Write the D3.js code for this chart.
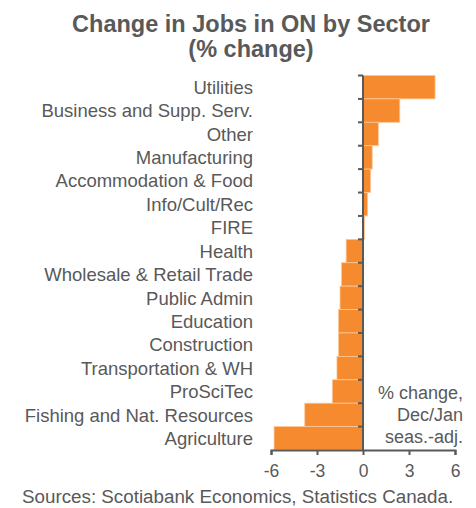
<!DOCTYPE html>
<html>
<head>
<meta charset="utf-8">
<script src="https://cdn.jsdelivr.net/npm/d3@7"></script>
<style>
  body { margin: 0; background: #fff; }
  text { font-family: "Liberation Sans", Arial, sans-serif; fill: #595959; }
</style>
</head>
<body>
<div class="chart"></div>
<script>
var w = 476, h = 508;

// sectors, top to bottom
var sectors = ['Utilities', 'Business and Supp. Serv.', 'Other', 'Manufacturing',
	'Accommodation & Food', 'Info/Cult/Rec', 'FIRE', 'Health',
	'Wholesale & Retail Trade', 'Public Admin', 'Education', 'Construction',
	'Transportation & WH', 'ProSciTec', 'Fishing and Nat. Resources', 'Agriculture'];
var change = [4.7, 2.4, 1.0, 0.6, 0.5, 0.3, 0.1, -1.1,
	-1.4, -1.5, -1.6, -1.6, -1.7, -2.0, -3.8, -5.8];
var xTicks = [-6, -3, 0, 3, 6];

var data = sectors.map(function(s, i) { return { name: s, value: change[i] }; });

var xScale = d3.scaleLinear().domain([-6, 6]).range([271, 455]);
var yScale = d3.scaleBand().domain(sectors).range([75.5, 450]).padding(0);

var svg = d3.select('.chart').append('svg')
			.attr('width', w)
			.attr('height', h);

// title
svg.append('text')
	.attr('x', 251).attr('y', 31.5)
	.attr('text-anchor', 'middle')
	.style('font-size', '23.5px').style('font-weight', 'bold')
	.text('Change in Jobs in ON by Sector');
svg.append('text')
	.attr('x', 251).attr('y', 56.5)
	.attr('text-anchor', 'middle')
	.style('font-size', '23.5px').style('font-weight', 'bold')
	.text('(% change)');

// bars
svg.selectAll('rect.bar')
	.data(data)
	.enter()
	.append('rect')
		.attr('class', 'bar')
		.attr('x', function(d) { return xScale(Math.min(0, d.value)); })
		.attr('y', function(d) { return yScale(d.name); })
		.attr('width', function(d) { return Math.abs(xScale(d.value) - xScale(0)); })
		.attr('height', yScale.bandwidth())
		.attr('fill', '#f58b2e')
		.attr('stroke', '#fbc89a')
		.attr('stroke-width', 0.8);

// category labels
svg.selectAll('text.cat')
	.data(sectors)
	.enter()
	.append('text')
		.attr('class', 'cat')
		.attr('x', 253)
		.attr('y', function(d) { return yScale(d) + yScale.bandwidth() / 2; })
		.attr('dy', '0.36em')
		.attr('text-anchor', 'end')
		.style('font-size', '18.5px')
		.text(function(d) { return d; });

// y axis line with ticks on the left
var yAxis = svg.append('g');
yAxis.append('line')
	.attr('x1', xScale(0)).attr('x2', xScale(0))
	.attr('y1', 75.5).attr('y2', 450)
	.attr('stroke', '#595959').attr('stroke-width', 2);
yAxis.selectAll('line.tick')
	.data(sectors)
	.enter()
	.append('line')
		.attr('class', 'tick')
		.attr('x1', xScale(0) - 5).attr('x2', xScale(0))
		.attr('y1', function(d) { return yScale(d); })
		.attr('y2', function(d) { return yScale(d); })
		.attr('stroke', '#595959').attr('stroke-width', 2);

// x axis
var xAxis = svg.append('g')
	.attr('transform', 'translate(0,450)')
	.call(d3.axisBottom(xScale).tickValues(xTicks).tickSize(5).tickPadding(10).tickFormat(d3.format('d')));
xAxis.select('.domain').attr('stroke', '#595959').attr('stroke-width', 2);
xAxis.selectAll('.tick line').attr('stroke', '#595959').attr('stroke-width', 2);
xAxis.selectAll('.tick text')
	.style('font-size', '17.5px')
	.style('font-family', '"Liberation Sans", Arial, sans-serif')
	.attr('fill', '#595959')
	.text(function(d) { return d < 0 ? '-' + Math.abs(d) : d; });

// note
var note = ['% change,', 'Dec/Jan', 'seas.-adj.'];
svg.selectAll('text.note')
	.data(note)
	.enter()
	.append('text')
		.attr('class', 'note')
		.attr('x', 463)
		.attr('y', function(d, i) { return 393 + i * 22; })
		.attr('dy', '0.35em')
		.attr('text-anchor', 'end')
		.style('font-size', '18px')
		.text(function(d) { return d; });

// source
svg.append('text')
	.attr('x', 22).attr('y', 503)
	.style('font-size', '18.8px')
	.text('Sources: Scotiabank Economics, Statistics Canada.');
</script>
</body>
</html>
